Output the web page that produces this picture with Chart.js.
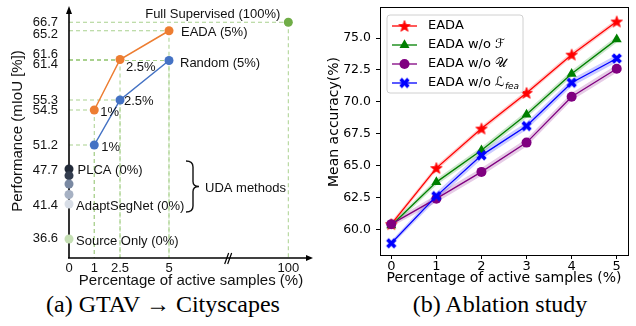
<!DOCTYPE html>
<html><head><meta charset="utf-8">
<script src="https://cdn.jsdelivr.net/npm/chart.js@4.4.0/dist/chart.umd.min.js"></script>
<style>
html,body{margin:0;padding:0;background:#fff;width:636px;height:326px;overflow:hidden}
#wrapA{position:absolute;left:0;top:0;width:318px;height:290px}
#wrapB{position:absolute;left:318px;top:0;width:318px;height:290px}
.cap{position:absolute;top:290px;font-family:"Liberation Serif","Times New Roman",serif;font-size:24px;line-height:28px;color:#000;white-space:nowrap;transform:translateX(-50%)}
</style></head><body>
<div id="wrapA"><canvas id="cA" width="318" height="290"></canvas></div>
<div id="wrapB"><canvas id="cB" width="318" height="290"></canvas></div>
<div class="cap" style="left:163px">(a) GTAV → Cityscapes</div>
<div class="cap" style="left:500px">(b) Ablation study</div>
<script>
// ---------------- DATA: left panel (GTAV -> Cityscapes) ----------------
const activePct = [1, 2.5, 5];
const eadaMiou = [54.5, 61.6, 65.2];
const randomMiou = [51.2, 55.3, 61.4];
const fullSupPct = 100;
const fullSupMiou = 66.7;
const udaMiou = [47.7, 46.5, 45.0, 43.1, 41.4];
const sourceOnlyMiou = 36.6;
const xTicksA = [0, 1, 2.5, 5, 100];
const xTickLabelsA = ['0', '1', '2.5', '5', '100'];
const yTicksA = [66.7, 65.2, 61.6, 61.4, 55.3, 54.5, 51.2, 47.7, 41.4, 36.6];

// ---------------- DATA: right panel (ablation) ----------------
const activeB = [0, 1, 2, 3, 4, 5];
const accEADA = [60.4, 64.8, 67.9, 70.7, 73.7, 76.3];
const accNoF = [60.3, 63.7, 66.2, 69.0, 72.2, 74.9];
const accNoU = [60.4, 62.4, 64.5, 66.8, 70.4, 72.6];
const accNoL = [58.9, 62.6, 65.8, 68.1, 71.5, 73.4];
const stdEADA = [0.2, 0.2, 0.2, 0.2, 0.2, 0.2];
const stdNoF = [0.2, 0.25, 0.25, 0.25, 0.25, 0.25];
const stdNoU = [0.2, 0.3, 0.3, 0.3, 0.3, 0.3];
const stdNoL = [0.2, 0.3, 0.3, 0.3, 0.3, 0.3];
const legendB = ['EADA', 'EADA w/o ℱ', 'EADA w/o 𝒰', 'EADA w/o ℒ_fea'];
const yTicksB = [60.0, 62.5, 65.0, 67.5, 70.0, 72.5, 75.0];
const xTicksB = [0, 1, 2, 3, 4, 5];

// ---------------- piecewise (broken) axis for the schematic left panel ----------------
const PIECES = {
  x: { values: [0, 1, 2.5, 5, 100, 110], fracs: [0, 0.104, 0.21, 0.4115, 0.9025, 1] },
  y: { values: [33, 36.6, 41.4, 47.7, 51.2, 54.5, 55.3, 61.4, 61.6, 65.2, 66.7, 69.5],
       fracs: [0, 0.076, 0.216, 0.356, 0.452, 0.592, 0.632, 0.79, 0.794, 0.909, 0.943, 1] }
};
class PiecewiseScale extends Chart.LinearScale {
  static id = 'piecewise';
  static defaults = Chart.LinearScale.defaults;
  _toFrac(v) {
    const p = PIECES[this.id], a = p.values, f = p.fracs;
    let i = 1; while (i < a.length - 1 && v > a[i]) i++;
    return f[i-1] + (v - a[i-1]) * (f[i] - f[i-1]) / (a[i] - a[i-1]);
  }
  getPixelForValue(v) {
    if (v === null || v === undefined || isNaN(v)) return NaN;
    return this.getPixelForDecimal(this._toFrac(v));
  }
  getValueForPixel(px) {
    const d = this.getDecimalForPixel(px);
    const p = PIECES[this.id], a = p.values, f = p.fracs;
    let i = 1; while (i < f.length - 1 && d > f[i]) i++;
    return a[i-1] + (d - f[i-1]) * (a[i] - a[i-1]) / (f[i] - f[i-1]);
  }
}
Chart.register(PiecewiseScale);

const SANS = '"Liberation Sans", Arial, sans-serif';
const GUIDE = '#a9d18e';
const ORANGE = '#ed7d31', BLUE = '#4472c4', GREEN = '#70ad47', SRC = '#c5dfb4';
const udaColors = ['#222a38', '#333d4f', '#7a89a2', '#a6b1c3', '#d7dde6'];

// label offsets (styling only)
const yTickShiftA = [0, 3.5, -5, 3.5, 0.7, 0.7, 0.7, 1, 1, -0.7];

const leftPlugin = {
  id: 'leftDecor',
  beforeDatasetsDraw(chart) {
    const ctx = chart.ctx, xs = chart.scales.x, ys = chart.scales.y;
    const X = v => xs.getPixelForValue(v), Y = v => ys.getPixelForValue(v);
    const bottom = ys.bottom, left = xs.left;
    ctx.save();
    ctx.strokeStyle = GUIDE; ctx.lineWidth = 1; ctx.setLineDash([4, 3]);
    const pts = [];
    activePct.forEach((p, i) => { pts.push([p, eadaMiou[i]]); pts.push([p, randomMiou[i]]); });
    pts.push([fullSupPct, fullSupMiou]);
    pts.forEach(([px, py]) => {
      ctx.beginPath();
      ctx.moveTo(left, Y(py)); ctx.lineTo(X(px), Y(py));
      ctx.moveTo(X(px), Y(py)); ctx.lineTo(X(px), bottom);
      ctx.stroke();
    });
    ctx.setLineDash([]);
    ctx.strokeStyle = '#000'; ctx.fillStyle = '#000'; ctx.lineWidth = 1.6;
    ctx.beginPath(); ctx.moveTo(left, bottom); ctx.lineTo(left, ys.top + 4); ctx.stroke();
    ctx.beginPath(); ctx.moveTo(left - 3, ys.top + 6); ctx.lineTo(left, ys.top - 2); ctx.lineTo(left + 3, ys.top + 6); ctx.closePath(); ctx.fill();
    ctx.beginPath(); ctx.moveTo(left - 1, bottom); ctx.lineTo(xs.right - 4, bottom); ctx.stroke();
    ctx.beginPath(); ctx.moveTo(xs.right - 6, bottom - 3); ctx.lineTo(xs.right + 1, bottom); ctx.lineTo(xs.right - 6, bottom + 3); ctx.closePath(); ctx.fill();
    const bx = (X(5) + X(100)) / 2;
    ctx.lineWidth = 1.2;
    ctx.beginPath();
    ctx.moveTo(bx - 4, bottom + 6); ctx.lineTo(bx, bottom - 5);
    ctx.moveTo(bx - 1, bottom + 6); ctx.lineTo(bx + 3, bottom - 5);
    ctx.stroke();
    ctx.restore();
  },
  afterDatasetsDraw(chart) {
    const ctx = chart.ctx, xs = chart.scales.x, ys = chart.scales.y;
    const X = v => xs.getPixelForValue(v), Y = v => ys.getPixelForValue(v);
    const bottom = ys.bottom, left = xs.left;
    ctx.save();
    ctx.fillStyle = '#111';
    ctx.font = '13px ' + SANS;
    ctx.textBaseline = 'middle';
    ctx.textAlign = 'right';
    yTicksA.forEach((v, i) => ctx.fillText(v.toFixed(1), left - 11, Y(v) + yTickShiftA[i]));
    ctx.textAlign = 'center';
    xTicksA.forEach((v, i) => ctx.fillText(xTickLabelsA[i], X(v), bottom + 10));
    ctx.textAlign = 'right';
    ctx.fillText('Full Supervised (100%)', X(fullSupPct) - 8, Y(fullSupMiou) - 8);
    ctx.textAlign = 'left';
    ctx.fillText('EADA (5%)', X(5) + 12, Y(eadaMiou[2]) + 2);
    ctx.fillText('Random (5%)', X(5) + 11, Y(randomMiou[2]) + 3);
    ctx.fillText('2.5%', X(2.5) + 6, Y(eadaMiou[1]) + 8);
    ctx.fillText('2.5%', X(2.5) + 4, Y(randomMiou[1]) + 1);
    ctx.fillText('1%', X(1) + 6, Y(eadaMiou[0]) + 2);
    ctx.fillText('1%', X(1) + 7, Y(randomMiou[0]) + 2.5);
    ctx.fillText('PLCA (0%)', X(0) + 8.5, Y(udaMiou[0]) + 1.5);
    ctx.fillText('AdaptSegNet (0%)', X(0) + 7, Y(udaMiou[udaMiou.length - 1]) + 2.5);
    ctx.fillText('Source Only (0%)', X(0) + 7, Y(sourceOnlyMiou) + 2);
    ctx.fillText('UDA methods', 205, (Y(udaMiou[0]) + Y(udaMiou[udaMiou.length-1])) / 2 + 2);
    const yt = Y(udaMiou[0]) - 8, yb = Y(udaMiou[udaMiou.length-1]) + 8, ym = (yt + yb) / 2, bx0 = 186, bx1 = 193, bx2 = 199;
    ctx.strokeStyle = '#111'; ctx.lineWidth = 1.4;
    ctx.beginPath();
    ctx.moveTo(bx0, yt);
    ctx.quadraticCurveTo(bx1, yt, bx1, yt + 6);
    ctx.lineTo(bx1, ym - 5);
    ctx.quadraticCurveTo(bx1, ym, bx2, ym);
    ctx.quadraticCurveTo(bx1, ym, bx1, ym + 5);
    ctx.lineTo(bx1, yb - 6);
    ctx.quadraticCurveTo(bx1, yb, bx0, yb);
    ctx.stroke();
    ctx.fillStyle = '#111';
    ctx.font = '15px ' + SANS;
    ctx.textAlign = 'center';
    ctx.fillText('Percentage of active samples (%)', 191, 281);
    ctx.translate(18, 131); ctx.rotate(-Math.PI / 2);
    ctx.fillText('Performance (mIoU [%])', 0, 0);
    ctx.restore();
  }
};

const xyA = (xs, ys) => xs.map((x, i) => ({x, y: ys[i]}));
new Chart(document.getElementById('cA'), {
  type: 'line',
  data: { datasets: [
    { data: xyA(activePct, eadaMiou), borderColor: ORANGE, backgroundColor: ORANGE, borderWidth: 1.5, pointRadius: 4.5, pointBorderWidth: 0, clip: false },
    { data: xyA(activePct, randomMiou), borderColor: BLUE, backgroundColor: BLUE, borderWidth: 1.5, pointRadius: 4.5, pointBorderWidth: 0, clip: false },
    { data: [{x: fullSupPct, y: fullSupMiou}], showLine: false, backgroundColor: GREEN, borderColor: GREEN, pointRadius: 4.5, pointBorderWidth: 0, clip: false },
    { data: udaMiou.map(v => ({x: 0, y: v})), showLine: false, backgroundColor: udaColors, borderColor: udaColors, pointRadius: 4.5, pointBorderWidth: 0, clip: false },
    { data: [{x: 0, y: sourceOnlyMiou}], showLine: false, backgroundColor: SRC, borderColor: SRC, pointRadius: 4.5, pointBorderWidth: 0, clip: false }
  ]},
  options: {
    responsive: false, animation: false, devicePixelRatio: 1, events: [],
    layout: { padding: { left: 69, right: 6, top: 8, bottom: 32 } },
    plugins: { legend: { display: false }, tooltip: { enabled: false } },
    scales: {
      x: { type: 'piecewise', display: false, min: 0, max: 110 },
      y: { type: 'piecewise', display: false, min: 33, max: 69.5 }
    }
  },
  plugins: [leftPlugin]
});

// ---------------- right panel ----------------
const DJ = '"DejaVu Sans", sans-serif';
function makeStar(color, R) {
  const s = Math.ceil(2 * R + 2), c = document.createElement('canvas'); c.width = c.height = s;
  const g = c.getContext('2d'); g.translate(s / 2, s / 2 + 0.5); g.beginPath();
  for (let i = 0; i < 10; i++) { const r = i % 2 ? R * 0.42 : R; const a = -Math.PI / 2 + i * Math.PI / 5; g.lineTo(r * Math.cos(a), r * Math.sin(a)); }
  g.closePath(); g.fillStyle = color; g.fill(); g.strokeStyle = color; g.lineWidth = 0.8; g.stroke(); return c;
}
function makeX(color, half) {
  const u = half / 2.83, s = Math.ceil(2 * half + 2), c = document.createElement('canvas'); c.width = c.height = s;
  const g = c.getContext('2d'); g.translate(s / 2, s / 2); g.rotate(Math.PI / 4); g.scale(u, u);
  const P = [[-1,-3],[1,-3],[1,-1],[3,-1],[3,1],[1,1],[1,3],[-1,3],[-1,1],[-3,1],[-3,-1],[-1,-1]];
  g.beginPath(); P.forEach(([a, b]) => g.lineTo(a, b)); g.closePath(); g.fillStyle = color; g.fill(); return c;
}
const seriesB = [
  { label: legendB[0], vals: accEADA, std: stdEADA, color: '#ff0000', band: 'rgba(255,0,0,0.2)', style: makeStar('#ff0000', 6), radius: 5 },
  { label: legendB[1], vals: accNoF, std: stdNoF, color: '#008000', band: 'rgba(0,128,0,0.2)', style: 'triangle', radius: 5.8 },
  { label: legendB[2], vals: accNoU, std: stdNoU, color: '#800080', band: 'rgba(128,0,128,0.2)', style: 'circle', radius: 5 },
  { label: legendB[3], vals: accNoL, std: stdNoL, color: '#0000ff', band: 'rgba(0,0,255,0.2)', style: makeX('#0000ff', 5.2), radius: 5 }
];
const datasetsB = [];
seriesB.forEach((s, k) => {
  const lowIdx = datasetsB.length;
  datasetsB.push({ data: activeB.map((x, i) => ({x, y: s.vals[i] - s.std[i]})), borderWidth: 0, pointRadius: 0, fill: false, order: 20 + k });
  datasetsB.push({ data: activeB.map((x, i) => ({x, y: s.vals[i] + s.std[i]})), borderWidth: 0, pointRadius: 0, fill: { target: lowIdx }, backgroundColor: s.band, order: 20 + k });
});
seriesB.forEach((s, k) => {
  datasetsB.push({ label: s.label, data: activeB.map((x, i) => ({x, y: s.vals[i]})), borderColor: s.color, backgroundColor: s.color,
    borderWidth: 1.3, pointStyle: s.style, pointRadius: s.radius, pointBorderWidth: 0, fill: false, order: 10 - k });
});

const frameLegend = {
  id: 'frameLegend',
  afterDraw(chart) {
    const ctx = chart.ctx, a = chart.chartArea;
    ctx.save();
    ctx.strokeStyle = '#000'; ctx.lineWidth = 1;
    ctx.strokeRect(Math.round(a.left) + 0.5, Math.round(a.top) + 0.5, Math.round(a.right - a.left), Math.round(a.bottom - a.top));
    const lx = 69, ly = 15, lw = 136, lh = 78, r = 3;
    ctx.beginPath();
    ctx.moveTo(lx + r, ly); ctx.arcTo(lx + lw, ly, lx + lw, ly + lh, r); ctx.arcTo(lx + lw, ly + lh, lx, ly + lh, r);
    ctx.arcTo(lx, ly + lh, lx, ly, r); ctx.arcTo(lx, ly, lx + lw, ly, r); ctx.closePath();
    ctx.fillStyle = 'rgba(255,255,255,0.85)'; ctx.fill();
    ctx.strokeStyle = '#d0d0d0'; ctx.lineWidth = 1; ctx.stroke();
    seriesB.forEach((s, k) => {
      const y = 26 + k * 19;
      ctx.strokeStyle = s.color; ctx.lineWidth = 1.3;
      ctx.beginPath(); ctx.moveTo(74, y); ctx.lineTo(99, y); ctx.stroke();
      ctx.fillStyle = s.color;
      Chart.helpers.drawPoint(ctx, { pointStyle: s.style, radius: s.radius, rotation: 0, borderWidth: 0 }, 86.5, y);
      ctx.fillStyle = '#000'; ctx.textBaseline = 'middle'; ctx.textAlign = 'left';
      const parts = s.label.split('_');
      ctx.font = '13px ' + DJ;
      ctx.fillText(parts[0], 110, y);
      if (parts[1]) {
        const w = ctx.measureText(parts[0]).width;
        ctx.font = 'italic 9px ' + DJ;
        ctx.fillText(parts[1], 110 + w + 0.5, y + 4);
      }
    });
    ctx.fillStyle = '#000'; ctx.textAlign = 'center'; ctx.textBaseline = 'middle';
    ctx.font = '14px ' + DJ;
    ctx.fillText('Percentage of active samples (%)', 186, 278);
    ctx.translate(16, 122); ctx.rotate(-Math.PI / 2);
    ctx.fillText('Mean accuracy(%)', 0, 0);
    ctx.restore();
  }
};

new Chart(document.getElementById('cB'), {
  type: 'line',
  data: { datasets: datasetsB },
  options: {
    responsive: false, animation: false, devicePixelRatio: 1, events: [],
    layout: { padding: { left: 0, right: 8, top: 7, bottom: 0 } },
    plugins: { legend: { display: false }, tooltip: { enabled: false } },
    scales: {
      x: { type: 'linear', min: -0.25, max: 5.25,
        afterBuildTicks: s => { s.ticks = xTicksB.map(v => ({value: v})); },
        afterFit: s => { s.height = 35; s.paddingLeft = 0; s.paddingRight = 0; },
        grid: { display: true, drawOnChartArea: false, tickLength: 4, tickColor: '#000' },
        border: { display: true, color: '#000', width: 1 },
        ticks: { color: '#000', font: { family: 'DejaVu Sans', size: 13 }, padding: 0, maxRotation: 0, callback: v => String(v) } },
      y: { type: 'linear', min: 57.98, max: 77.44,
        afterBuildTicks: s => { s.ticks = yTicksB.map(v => ({value: v})); },
        afterFit: s => { s.width = 62; s.paddingTop = 0; s.paddingBottom = 0; },
        grid: { display: true, drawOnChartArea: false, tickLength: 4, tickColor: '#000' },
        border: { display: true, color: '#000', width: 1 },
        ticks: { color: '#000', font: { family: 'DejaVu Sans', size: 12.5 }, padding: 5, callback: v => Number(v).toFixed(1) } }
    }
  },
  plugins: [frameLegend]
});
</script>
</body></html>
